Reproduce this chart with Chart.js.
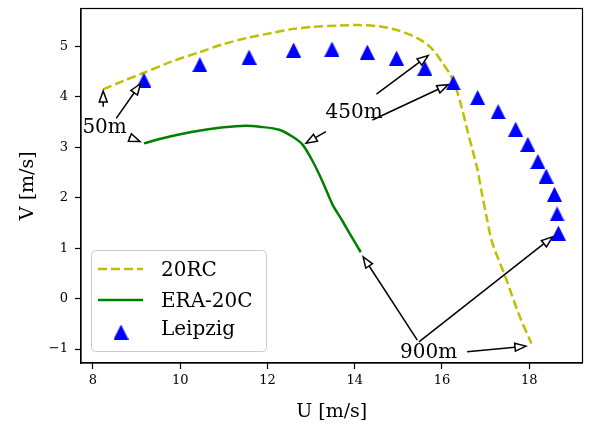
<!DOCTYPE html>
<html><head><meta charset="utf-8">
<script src="https://cdn.jsdelivr.net/npm/chart.js@4"></script>
<style>html,body{margin:0;padding:0;background:#fff}</style>
</head><body>
<canvas id="c" width="591" height="425"></canvas>
<script>
// ---- data ----
const xTicks = [8, 10, 12, 14, 16, 18];
const yTicks = [-1, 0, 1, 2, 3, 4, 5];

const rc20U = [8.235, 8.7, 9.17, 9.8, 10.45, 11.0, 11.58, 12.1, 12.6, 13.05, 13.65, 14.1, 14.56, 15.02, 15.47, 15.78, 16.0, 16.2, 16.35, 16.46, 16.58, 16.7, 16.81, 16.92, 17.02, 17.15, 17.46, 17.76, 18.05];
const rc20V = [4.15, 4.32, 4.48, 4.70, 4.89, 5.05, 5.18, 5.27, 5.35, 5.39, 5.415, 5.425, 5.40, 5.315, 5.15, 4.95, 4.69, 4.43, 4.10, 3.77, 3.35, 2.95, 2.58, 2.07, 1.64, 1.12, 0.42, -0.30, -0.89];

const eraU = [9.17, 9.6, 10.0, 10.5, 11.0, 11.5, 11.82, 12.27, 12.58, 12.81, 13.04, 13.26, 13.49, 13.72, 13.9, 14.14];
const eraV = [3.08, 3.18, 3.26, 3.34, 3.40, 3.43, 3.41, 3.35, 3.21, 3.05, 2.72, 2.33, 1.87, 1.54, 1.27, 0.92];

const leipU = [9.17, 10.45, 11.58, 12.60, 13.48, 14.29, 14.96, 15.61, 16.26, 16.82, 17.29, 17.69, 17.97, 18.20, 18.39, 18.58, 18.64, 18.67];
const leipV = [4.33, 4.64, 4.79, 4.93, 4.95, 4.89, 4.77, 4.57, 4.28, 3.99, 3.71, 3.36, 3.06, 2.72, 2.43, 2.07, 1.68, 1.30];

const seriesNames = ['20RC', 'ERA-20C', 'Leipzig'];

// annotations: label text and anchor (centre x, baseline y) in data units
const annoLabels = ['50m', '450m', '900m'];
const annoTextU = [8.267, 13.989, 15.696];
const annoTextV = [3.279, 3.574, -1.184];
// arrows (tail -> head) in data units
const arrowTailU = [8.235, 8.533, 8.823, 14.50, 14.407, 13.341, 15.436, 15.474, 16.578];
const arrowTailV = [3.805, 3.574, 3.204, 4.055, 3.543, 3.312, -0.823, -0.857, -1.053];
const arrowHeadU = [8.235, 9.09, 9.081, 15.687, 16.144, 12.884, 14.194, 18.537, 17.927];
const arrowHeadV = [4.12, 4.263, 3.115, 4.823, 4.244, 3.082, 0.831, 1.225, -0.941];

const xTitle = 'U [m/s]';
const yTitle = 'V [m/s]';

// ---- styles ----
const SERIF = '"DejaVu Serif", serif';
const colRC = '#bfbf00', colERA = '#008000', colLeip = '#0000ff';
const dashRC = [9, 4];

function triCanvas(s, color) {
  const c = document.createElement('canvas');
  c.width = s; c.height = s;
  const g = c.getContext('2d');
  g.fillStyle = color;
  g.beginPath();
  g.moveTo(s / 2, 0); g.lineTo(s, s); g.lineTo(0, s); g.closePath();
  g.fill();
  return c;
}
const tri = triCanvas(15, colLeip);

const zip = (a, b) => a.map((v, i) => ({x: v, y: b[i]}));
const fmt = v => v < 0 ? '\u2212' + Math.abs(v) : String(v);

function drawArrow(ctx, x0, y0, x1, y1) {
  const L = 11, W = 4;
  const dx = x1 - x0, dy = y1 - y0;
  const len = Math.hypot(dx, dy);
  const ux = dx / len, uy = dy / len;
  const bx = x1 - ux * L, by = y1 - uy * L;
  ctx.strokeStyle = '#000';
  ctx.lineWidth = 1.5;
  if (len > L) {
    ctx.beginPath(); ctx.moveTo(x0, y0); ctx.lineTo(bx, by); ctx.stroke();
  }
  ctx.beginPath();
  ctx.moveTo(x1, y1);
  ctx.lineTo(bx - uy * W, by + ux * W);
  ctx.lineTo(bx + uy * W, by - ux * W);
  ctx.closePath();
  ctx.fillStyle = '#fff';
  ctx.fill();
  ctx.stroke();
}

const overlay = {
  id: 'overlay',
  afterDraw(chart) {
    const ctx = chart.ctx, a = chart.chartArea;
    const xs = chart.scales.x, ys = chart.scales.y;
    ctx.save();
    // frame
    ctx.strokeStyle = '#000'; ctx.lineWidth = 1.2;
    ctx.strokeRect(a.left, a.top, a.right - a.left, a.bottom - a.top);
    // arrows
    for (let i = 0; i < arrowTailU.length; i++) {
      drawArrow(ctx, xs.getPixelForValue(arrowTailU[i]), ys.getPixelForValue(arrowTailV[i]),
                xs.getPixelForValue(arrowHeadU[i]), ys.getPixelForValue(arrowHeadV[i]));
    }
    // annotation labels
    ctx.fillStyle = '#000';
    ctx.font = '20px ' + SERIF;
    ctx.textAlign = 'center'; ctx.textBaseline = 'alphabetic';
    annoLabels.forEach((t, i) => {
      ctx.fillText(t, xs.getPixelForValue(annoTextU[i]), ys.getPixelForValue(annoTextV[i]));
    });
    // axis titles
    ctx.font = '19px ' + SERIF;
    ctx.fillText(xTitle, (a.left + a.right) / 2, 417);
    ctx.save();
    ctx.translate(33, (a.top + a.bottom) / 2);
    ctx.rotate(-Math.PI / 2);
    ctx.fillText(yTitle, 0, 0);
    ctx.restore();
    // legend
    const lx = 91.5, ly = 250.5, lw = 175, lh = 101, r = 4;
    ctx.beginPath();
    ctx.roundRect(lx, ly, lw, lh, r);
    ctx.fillStyle = 'rgba(255,255,255,0.8)'; ctx.fill();
    ctx.strokeStyle = '#cccccc'; ctx.lineWidth = 1; ctx.stroke();
    ctx.lineWidth = 2.5;
    ctx.strokeStyle = colRC; ctx.setLineDash(dashRC);
    ctx.beginPath(); ctx.moveTo(98, 269); ctx.lineTo(143, 269); ctx.stroke();
    ctx.setLineDash([]);
    ctx.strokeStyle = colERA;
    ctx.beginPath(); ctx.moveTo(98, 300); ctx.lineTo(143, 300); ctx.stroke();
    ctx.drawImage(tri, 121 - 7.5, 332 - 7.5);
    ctx.fillStyle = '#000'; ctx.textAlign = 'left';
    ctx.font = '20px ' + SERIF;
    ctx.fillText(seriesNames[0], 161, 276);
    ctx.fillText(seriesNames[1], 161, 306.5);
    ctx.fillText(seriesNames[2], 161, 335);
    ctx.restore();
  }
};

const tickFont = {family: SERIF, size: 13};

new Chart(document.getElementById('c'), {
  type: 'scatter',
  data: {
    datasets: [
      {label: seriesNames[0], data: zip(rc20U, rc20V), showLine: true, borderColor: colRC, borderWidth: 2.5,
       borderDash: dashRC, pointRadius: 0, tension: 0.3, order: 3},
      {label: seriesNames[1], data: zip(eraU, eraV), showLine: true, borderColor: colERA, borderWidth: 2.5,
       pointRadius: 0, tension: 0.3, order: 2},
      {label: seriesNames[2], data: zip(leipU, leipV), showLine: false, pointStyle: tri, pointRadius: 7.5,
       backgroundColor: colLeip, borderColor: colLeip, order: 1}
    ]
  },
  options: {
    responsive: false, animation: false, devicePixelRatio: 1,
    layout: {padding: {top: 6, right: 7, left: 0, bottom: 0}},
    plugins: {legend: {display: false}, tooltip: {enabled: false}},
    scales: {
      x: {
        type: 'linear', min: 7.726, max: 19.223,
        afterBuildTicks: s => { s.ticks = xTicks.map(v => ({value: v})); },
        afterFit: s => { s.height = 62; s.paddingLeft = 0; s.paddingRight = 0; },
        grid: {display: true, drawOnChartArea: false, drawTicks: true, tickLength: 6, color: '#000', tickWidth: 1.2},
        border: {display: true, color: '#000', width: 1.2},
        ticks: {color: '#000', font: tickFont, padding: 4, maxRotation: 0, autoSkip: false, callback: v => fmt(v)}
      },
      y: {
        type: 'linear', min: -1.276, max: 5.754,
        afterBuildTicks: s => { s.ticks = yTicks.map(v => ({value: v})); },
        afterFit: s => { s.width = 81; s.paddingTop = 0; s.paddingBottom = 0; },
        grid: {display: true, drawOnChartArea: false, drawTicks: true, tickLength: 6, color: '#000', tickWidth: 1.2},
        border: {display: true, color: '#000', width: 1.2},
        ticks: {color: '#000', font: tickFont, padding: 7, autoSkip: false, callback: v => fmt(v)}
      }
    }
  },
  plugins: [overlay]
});
</script>
</body></html>
